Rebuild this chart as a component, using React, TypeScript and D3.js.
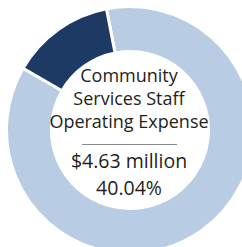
import React from "react";
import * as d3 from "d3";

const categories = ["Other", "Selected"];
const values = [86.4, 13.6];
const colors = ["#b8cde4", "#1c3a63"];
const titleLines = ["Community", "Services Staff", "Operating Expense"];
const valueLines = ["$4.63 million", "40.04%"];

const W = 242;
const H = 247;
const cx = 130;
const cy = 130;
const outerR = 122;
const innerR = 80;
const startDeg = -11;

export default function App() {
  const pie = d3
    .pie<number>()
    .sort(null)
    .value((d) => d)
    .startAngle((startDeg * Math.PI) / 180)
    .endAngle(((startDeg + 360) * Math.PI) / 180);
  const arcs = pie(values);
  const arc = d3.arc<d3.PieArcDatum<number>>().innerRadius(innerR - 1.5).outerRadius(outerR + 1.5);

  const titleBaselines = [81.5, 104.5, 128];
  const valueBaselines = [168, 195];
  const font = "'Open Sans', sans-serif";

  return (
    <div style={{ position: "fixed", left: 0, top: 0, width: W, height: H, background: "#fff" }}>
      <svg width={W} height={H} style={{ display: "block" }}>
        <g transform={`translate(${cx},${cy})`}>
          {arcs.map((a, i) => (
            <path key={categories[i]} d={arc(a) || ""} fill={colors[i]} stroke="#fff" strokeWidth={3} />
          ))}
        </g>
        {titleLines.map((t, i) => (
          <text key={t} x={129} y={titleBaselines[i]} textAnchor="middle" fontFamily={font} fontSize={18} fill="#231f20">
            {t}
          </text>
        ))}
        <line x1={82} x2={177} y1={144.5} y2={144.5} stroke="#8a8a8a" strokeWidth={1} />
        {valueLines.map((t, i) => (
          <text key={t} x={129} y={valueBaselines[i]} textAnchor="middle" fontFamily={font} fontSize={19.5} fill="#231f20">
            {t}
          </text>
        ))}
      </svg>
    </div>
  );
}
